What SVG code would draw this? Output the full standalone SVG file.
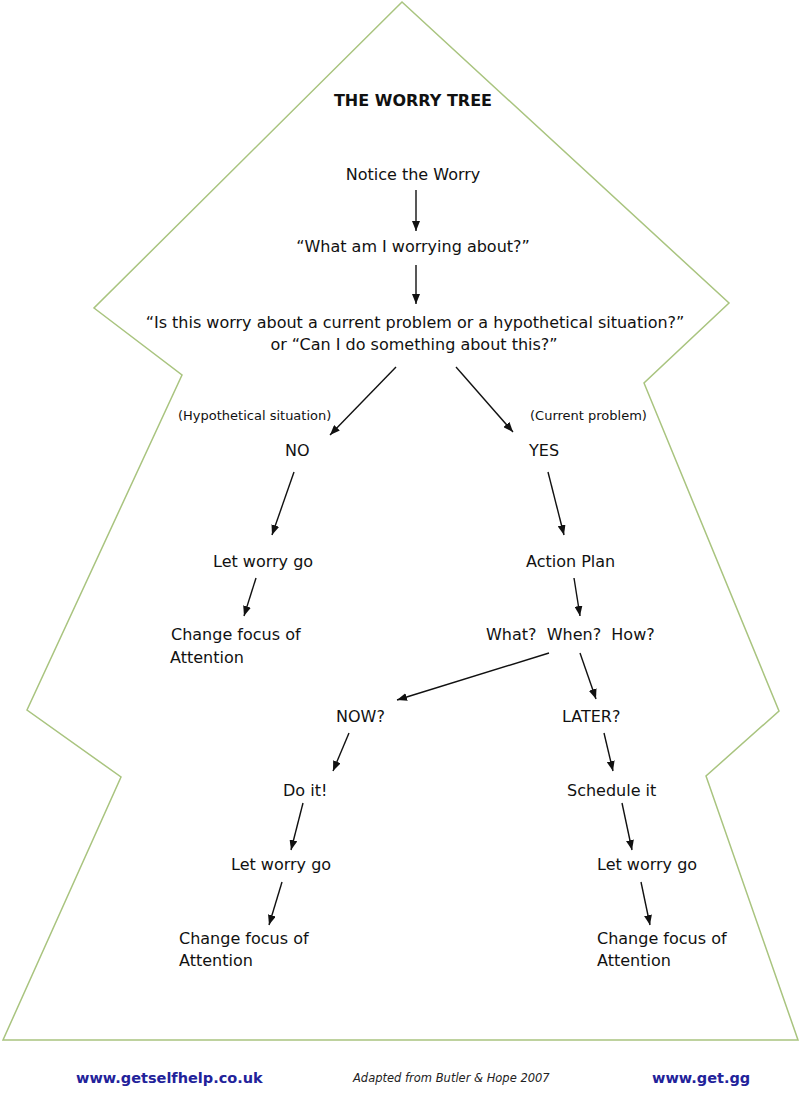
<svg xmlns="http://www.w3.org/2000/svg" width="800" height="1102" viewBox="0 0 800 1102">
<style>
.t{font-family:"DejaVu Sans",Verdana,sans-serif;font-size:16px;fill:#111;text-anchor:middle}
.s{font-family:"DejaVu Sans",Verdana,sans-serif;font-size:13px;fill:#111}
.l{font-family:"DejaVu Sans",Verdana,sans-serif;font-size:16px;fill:#111}
.title{font-family:"DejaVu Sans",Verdana,sans-serif;font-size:16px;font-weight:bold;fill:#111;text-anchor:middle}
.url{font-family:"DejaVu Sans",Verdana,sans-serif;font-size:14.5px;font-weight:bold;fill:#22229a}
.cite{font-family:"DejaVu Sans",Verdana,sans-serif;font-size:11.5px;font-style:italic;fill:#222}
.c{stroke:#111;stroke-width:1.4;fill:none;marker-end:url(#ah)}
</style>
<defs>
<marker id="ah" viewBox="0 0 10 8" refX="10" refY="4" markerWidth="10" markerHeight="8" markerUnits="userSpaceOnUse" orient="auto">
<path d="M0,0 L10,4 L0,8 Z" fill="#111"/>
</marker>
</defs>
<rect width="800" height="1102" fill="#fff"/>
<g id="outline">
<polygon points="402,2 729,303 644,383 779,711 706,776 798,1040 3,1040 121,777 27,710 182,375 94,308" fill="none" stroke="#a9c47f" stroke-width="1.5"/>
</g>
<g id="title"><text class="title" x="413" y="106">THE WORRY TREE</text></g>
<g id="n1"><text class="t" x="413" y="180">Notice the Worry</text></g>
<g id="n2"><text class="t" x="413" y="252">“What am I worrying about?”</text></g>
<g id="n3"><text class="t" x="415" y="328">“Is this worry about a current problem or a hypothetical situation?”</text><text class="t" x="414" y="350">or “Can I do something about this?”</text></g>
<g id="lbl-hyp"><text class="s" x="178" y="420">(Hypothetical situation)</text></g>
<g id="lbl-cur"><text class="s" x="530" y="420">(Current problem)</text></g>
<g id="no"><text class="l" x="285" y="456">NO</text></g>
<g id="yes"><text class="l" x="529" y="456">YES</text></g>
<g id="letgo1"><text class="l" x="213" y="567">Let worry go</text></g>
<g id="action"><text class="l" x="526" y="567">Action Plan</text></g>
<g id="change1"><text class="l" x="171" y="640">Change focus of</text><text class="l" x="170" y="663">Attention</text></g>
<g id="www"><text class="l" x="486" y="640" xml:space="preserve">What?  When?  How?</text></g>
<g id="now"><text class="l" x="336" y="722">NOW?</text></g>
<g id="later"><text class="l" x="562" y="722">LATER?</text></g>
<g id="doit"><text class="l" x="283" y="796">Do it!</text></g>
<g id="schedule"><text class="l" x="567" y="796">Schedule it</text></g>
<g id="letgo2"><text class="l" x="231" y="870">Let worry go</text></g>
<g id="letgo3"><text class="l" x="597" y="870">Let worry go</text></g>
<g id="change2"><text class="l" x="179" y="944">Change focus of</text><text class="l" x="179" y="966">Attention</text></g>
<g id="change3"><text class="l" x="597" y="944">Change focus of</text><text class="l" x="597" y="966">Attention</text></g>
<g id="connectors">
<line class="c" x1="416" y1="190" x2="416" y2="231"/>
<line class="c" x1="416" y1="265" x2="416" y2="304"/>
<line class="c" x1="396" y1="367" x2="330" y2="435"/>
<line class="c" x1="456" y1="367" x2="513" y2="432"/>
<line class="c" x1="294" y1="472" x2="272" y2="535"/>
<line class="c" x1="548" y1="472" x2="564" y2="535"/>
<line class="c" x1="256" y1="578" x2="244" y2="616"/>
<line class="c" x1="574" y1="578" x2="580" y2="616"/>
<line class="c" x1="549" y1="653" x2="397" y2="700"/>
<line class="c" x1="580" y1="653" x2="596" y2="699"/>
<line class="c" x1="349" y1="733" x2="333" y2="771"/>
<line class="c" x1="604" y1="733" x2="613" y2="771"/>
<line class="c" x1="303" y1="803" x2="291" y2="850"/>
<line class="c" x1="622" y1="803" x2="632" y2="850"/>
<line class="c" x1="282" y1="882" x2="269" y2="925"/>
<line class="c" x1="641" y1="882" x2="650" y2="925"/>
</g>
<g id="footer">
<text class="url" x="76" y="1083">www.getselfhelp.co.uk</text>
<text class="cite" x="353" y="1082">Adapted from Butler &amp; Hope 2007</text>
<text class="url" x="652" y="1083">www.get.gg</text>
</g>
</svg>
